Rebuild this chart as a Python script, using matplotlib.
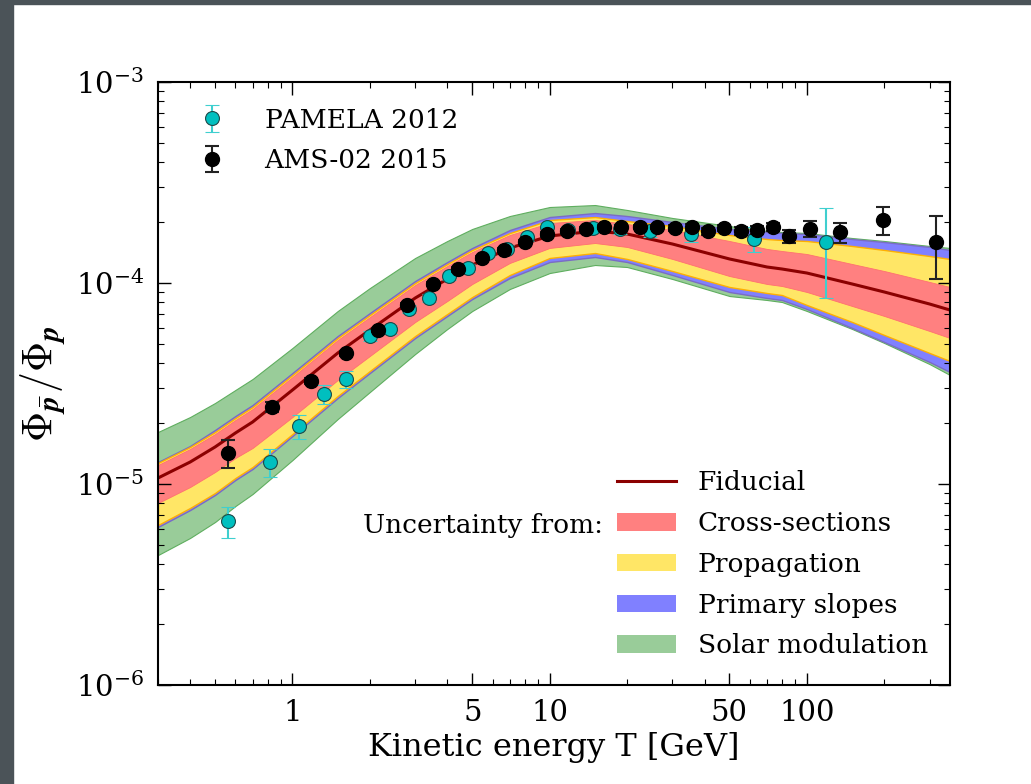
import numpy as np
import matplotlib
matplotlib.use('Agg')
import matplotlib.pyplot as plt
from matplotlib.patches import Patch, Rectangle
from matplotlib.lines import Line2D
from matplotlib.ticker import FixedLocator, FixedFormatter, LogLocator, NullFormatter

plt.rcParams['font.family'] = ['DejaVu Serif']
plt.rcParams['mathtext.fontset'] = 'cm'

SCALE = 1e-5  # all ratio values below are in units of 1e-5

# model curves
energy = [0.3, 0.4, 0.5, 0.6, 0.7, 1, 1.5, 2, 3, 4, 5, 7, 10, 15, 20, 30, 50, 70, 80, 100,
          150, 200, 300, 360]
fiducial = [1.071, 1.286, 1.528, 1.794, 2.035, 2.936, 4.485, 5.84, 8.42, 10.47, 12.29, 14.94,
            17.13, 18.14, 17.53, 15.63, 13.17, 12.01, 11.74, 11.21, 9.886, 9.020, 7.86, 7.338]
solar_hi = [1.814, 2.154, 2.529, 2.936, 3.330, 4.750, 7.256, 9.44, 13.32, 16.18, 18.57, 21.54,
            23.88, 24.43, 23.08, 21.06, 19.21, 18.14, 17.94, 17.73, 16.74, 16.18, 15.28, 14.94]
solar_lo = [0.443, 0.539, 0.647, 0.777, 0.892, 1.316, 2.106, 2.870, 4.435, 5.904, 7.256, 9.335,
            11.21, 12.29, 12.01, 10.47, 8.614, 8.230, 8.043, 7.256, 5.904, 5.029, 3.95, 3.485]
slopes_hi = [1.286, 1.546, 1.857, 2.179, 2.472, 3.567, 5.449, 7.09, 10.23, 12.72, 14.94, 18.35,
             21.29, 22.29, 21.54, 20.12, 18.57, 17.94, 17.73, 17.53, 16.55, 15.99, 15.11, 14.60]
slopes_lo = [0.611, 0.742, 0.882, 1.047, 1.188, 1.733, 2.679, 3.567, 5.326, 6.853, 8.325, 10.59,
             12.72, 13.47, 12.72, 10.96, 9.020, 8.42, 8.230, 7.424, 5.972, 5.087, 4.046, 3.607]
prop_hi = [1.272, 1.528, 1.814, 2.130, 2.416, 3.485, 5.326, 6.93, 10.0, 12.43, 14.60, 17.73,
           20.58, 21.29, 20.34, 19.21, 17.33, 16.55, 16.36, 16.18, 15.28, 14.60, 13.62, 13.17]
prop_lo = [0.625, 0.760, 0.902, 1.071, 1.215, 1.773, 2.741, 3.650, 5.449, 7.013, 8.518, 10.96,
           13.32, 14.10, 13.17, 11.47, 9.552, 8.916, 8.713, 7.771, 6.397, 5.511, 4.485, 4.092]
xsec_hi = [1.243, 1.494, 1.773, 2.082, 2.361, 3.406, 5.205, 6.77, 9.773, 12.15, 14.27, 17.33,
           19.89, 20.58, 19.66, 18.35, 16.18, 14.77, 14.43, 13.94, 12.43, 11.47, 10.12, 9.552]
xsec_lo = [0.804, 0.966, 1.147, 1.347, 1.511, 2.154, 3.291, 4.335, 6.397, 8.137, 9.886, 12.58,
           14.94, 15.81, 15.11, 13.17, 10.83, 9.886, 9.661, 9.020, 7.683, 6.853, 5.770, 5.326]

# PAMELA 2012
pam_T = [0.56, 0.815, 1.064, 1.33, 1.62, 2.0, 2.4, 2.84, 3.40, 4.06, 4.81, 5.75, 6.81, 8.14,
         9.75, 11.8, 14.7, 18.7, 24.6, 35.5, 62.5, 118.6]
pam_r = [0.655, 1.29, 1.94, 2.80, 3.33, 5.45, 5.90, 7.43, 8.42, 10.8, 11.9, 14.1, 14.8, 16.9,
         19.0, 18.3, 18.8, 18.6, 18.1, 17.5, 16.6, 16.0]
pam_err = [0.115, 0.21, 0.26, 0.30, 0.32, 0.30, 0.30, 0.35, 0.40, 0.45, 0.50, 0.55, 0.60, 0.70,
           0.80, 0.85, 0.90, 1.0, 1.2, 1.5, 2.4, 7.6]

# AMS-02 2015
ams_T = [0.56, 0.836, 1.185, 1.62, 2.15, 2.79, 3.52, 4.39, 5.45, 6.63, 8.0, 9.75, 11.7, 13.8,
         16.2, 19.0, 22.5, 26.2, 30.7, 35.8, 41.4, 47.7, 55.5, 63.9, 73.7, 85, 102.5, 135, 197, 317]
ams_r = [1.43, 2.42, 3.25, 4.48, 5.84, 7.78, 9.9, 11.7, 13.3, 14.6, 16.0, 17.5, 18.1, 18.6,
         19.0, 19.0, 19.0, 19.0, 18.8, 19.0, 18.1, 18.8, 18.1, 18.4, 19.0, 17.1, 18.6, 17.9, 20.6, 16.0]
ams_err = [0.23, 0.15, 0.12, 0.13, 0.15, 0.2, 0.25, 0.3, 0.3, 0.4, 0.4, 0.5, 0.5, 0.5,
           0.5, 0.5, 0.5, 0.5, 0.6, 0.6, 0.7, 0.7, 0.8, 0.9, 0.9, 1.2, 1.65, 2.0, 3.3, 5.5]

c_red, c_yel, c_blue, c_green = '#ff8080', '#ffe666', '#8080ff', '#99cc99'

def sc(v):
    return np.array(v) * SCALE

fig = plt.figure(figsize=(10.31, 7.84), dpi=100, facecolor='white')
# dark slide border
fig.patches.append(Rectangle((0, 0), 13 / 1031, 1, transform=fig.transFigure,
                             color='#4b5358', zorder=-5))
fig.patches.append(Rectangle((0, 1 - 4 / 784), 1, 4 / 784, transform=fig.transFigure,
                             color='#4b5358', zorder=-5))

ax = fig.add_axes([158 / 1031, 1 - 685 / 784, 792 / 1031, 603 / 784])

ax.fill_between(energy, sc(solar_lo), sc(solar_hi), facecolor=c_green, edgecolor='#5fae5f', lw=0.8)
ax.fill_between(energy, sc(slopes_lo), sc(slopes_hi), facecolor=c_blue, edgecolor='#7a6cc4', lw=1.0)
ax.fill_between(energy, sc(prop_lo), sc(prop_hi), facecolor=c_yel, edgecolor='#ffb000', lw=1.0)
ax.fill_between(energy, sc(xsec_lo), sc(xsec_hi), facecolor=c_red, edgecolor='#ff7070', lw=0.6)
ax.plot(energy, sc(fiducial), color='#8b0000', lw=2.2)

ax.errorbar(pam_T, sc(pam_r), yerr=sc(pam_err), fmt='o', ms=10, mfc='#00bfbf', mec='#1d4a4a',
            mew=0.8, ecolor='#3fcfcf', elinewidth=1.5, capsize=5, capthick=1.5,
            label='PAMELA 2012', zorder=4)
ax.errorbar(ams_T, sc(ams_r), yerr=sc(ams_err), fmt='o', ms=10, mfc='black', mec='black',
            ecolor='#222222', elinewidth=1.5, capsize=5, capthick=1.5,
            label='AMS-02 2015', zorder=5)

ax.set_xscale('log')
ax.set_yscale('log')
ax.set_xlim(0.3, 360)
ax.set_ylim(1e-6, 1e-3)

ax.xaxis.set_major_locator(FixedLocator([1, 5, 10, 50, 100]))
ax.xaxis.set_major_formatter(FixedFormatter(['1', '5', '10', '50', '100']))
ax.xaxis.set_minor_locator(LogLocator(base=10, subs=np.arange(2, 10)))
ax.xaxis.set_minor_formatter(NullFormatter())
ax.tick_params(which='both', direction='in', top=True, right=True, labelsize=21, pad=10)
ax.tick_params(which='major', length=9, width=1)
ax.tick_params(which='minor', length=4, width=0.8)
for s in ax.spines.values():
    s.set_linewidth(1.5)

ax.set_xlabel('Kinetic energy T [GeV]', fontsize=23, labelpad=4)
ax.set_ylabel(r'$\mathbf{\Phi}_{\bar{\mathbfit{p}}}/\mathbf{\Phi}_{\mathbfit{p}}$', fontsize=30, labelpad=6)

leg1 = ax.legend(loc='upper left', bbox_to_anchor=(0.028, 0.975), borderaxespad=0,
                 frameon=False, fontsize=19, numpoints=1, handlelength=1.6,
                 handletextpad=1.2, labelspacing=0.58)
ax.add_artist(leg1)

handles = [Line2D([], [], color='#8b0000', lw=2.2),
           Patch(facecolor=c_red, edgecolor='none'),
           Patch(facecolor=c_yel, edgecolor='none'),
           Patch(facecolor=c_blue, edgecolor='none'),
           Patch(facecolor=c_green, edgecolor='none')]
labels = ['Fiducial', 'Cross-sections', 'Propagation', 'Primary slopes', 'Solar modulation']
ax.legend(handles, labels, loc='lower left', bbox_to_anchor=(0.566, 0.0265), borderaxespad=0,
          frameon=False, fontsize=19, handlelength=2.24, handleheight=0.65,
          handletextpad=0.83, labelspacing=0.6)
fig.text(603 / 1031, 1 - 525 / 784, 'Uncertainty from:', fontsize=19, va='center', ha='right')

fig.savefig('out.png', dpi=100, facecolor='white')
